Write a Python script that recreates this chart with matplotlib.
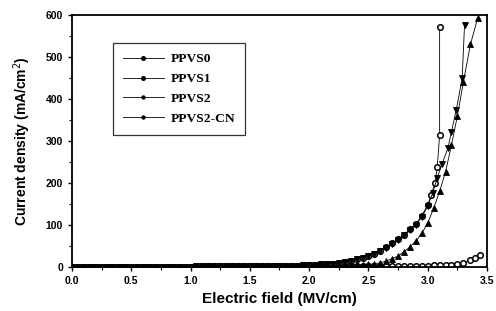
import matplotlib
matplotlib.use("Agg")
import matplotlib.pyplot as plt
from matplotlib.ticker import MultipleLocator

# ---------------- data ----------------
field_low = [0.00, 0.05, 0.10, 0.15, 0.20, 0.25, 0.30, 0.35, 0.40, 0.45,
             0.50, 0.55, 0.60, 0.65, 0.70, 0.75, 0.80, 0.85, 0.90, 0.95,
             1.00, 1.05, 1.10, 1.15, 1.20, 1.25, 1.30, 1.35, 1.40, 1.45,
             1.50, 1.55, 1.60, 1.65, 1.70, 1.75, 1.80, 1.85, 1.90, 1.95]
j_low = [0.3, 0.3, 0.4, 0.4, 0.4, 0.5, 0.5, 0.5, 0.6, 0.6,
         0.6, 0.7, 0.7, 0.8, 0.8, 0.9, 0.9, 1.0, 1.0, 1.1,
         1.1, 1.2, 1.2, 1.3, 1.4, 1.4, 1.5, 1.6, 1.7, 1.8,
         1.9, 2.0, 2.1, 2.2, 2.4, 2.6, 2.8, 3.0, 3.3, 3.6]
j_low0 = [0.2, 0.2, 0.2, 0.2, 0.2, 0.2, 0.2, 0.3, 0.3, 0.3,
          0.3, 0.3, 0.3, 0.3, 0.3, 0.4, 0.4, 0.4, 0.4, 0.4,
          0.4, 0.4, 0.5, 0.5, 0.5, 0.5, 0.5, 0.5, 0.6, 0.6,
          0.6, 0.6, 0.6, 0.7, 0.7, 0.7, 0.7, 0.8, 0.8, 0.8]

ppvs0_x = [2.00, 2.05, 2.10, 2.15, 2.20, 2.25, 2.30, 2.35, 2.40, 2.45,
           2.50, 2.55, 2.60, 2.65, 2.70, 2.75, 2.80, 2.85, 2.90, 2.95,
           3.00, 3.05, 3.10, 3.15, 3.20, 3.25, 3.30, 3.36, 3.40, 3.44]
ppvs0_y = [0.8, 0.9, 0.9, 1.0, 1.0, 1.1, 1.1, 1.2, 1.3, 1.4,
           1.5, 1.6, 1.8, 1.9, 2.0, 2.2, 2.4, 2.6, 2.9, 3.2,
           3.5, 3.9, 4.3, 4.7, 5.3, 7.0, 10.0, 17.0, 22.0, 28.0]

ppvs1_x = [2.00, 2.05, 2.10, 2.15, 2.20, 2.25, 2.30, 2.35, 2.40, 2.45,
           2.50, 2.55, 2.60, 2.65, 2.70, 2.75, 2.80, 2.85, 2.90, 2.95,
           3.00, 3.03, 3.06, 3.08, 3.10, 3.10]
ppvs1_y = [5, 5.5, 6, 7, 8, 10, 12, 15, 18, 22,
           27, 32, 39, 47, 56, 66, 77, 90, 103, 122,
           148, 172, 200, 238, 314, 571]

ppvs2_x = [2.00, 2.05, 2.10, 2.15, 2.20, 2.25, 2.30, 2.35, 2.40, 2.45,
           2.50, 2.55, 2.60, 2.65, 2.70, 2.75, 2.80, 2.85, 2.90, 2.95,
           3.00, 3.05, 3.10, 3.15, 3.20, 3.25, 3.30, 3.36, 3.42]
ppvs2_y = [3.5, 3.6, 3.8, 4.0, 4.2, 4.4, 4.6, 4.9, 5.2, 5.6,
           6, 8, 10, 14, 20, 26, 36, 48, 62, 80,
           105, 140, 180, 227, 290, 360, 440, 530, 592]

ppvs2cn_x = [2.00, 2.05, 2.10, 2.15, 2.20, 2.25, 2.30, 2.35, 2.40, 2.45,
             2.50, 2.55, 2.60, 2.65, 2.70, 2.75, 2.80, 2.85, 2.90, 2.95,
             3.00, 3.04, 3.08, 3.12, 3.17, 3.20, 3.24, 3.29, 3.31]
ppvs2cn_y = [5, 5.5, 6, 7, 8, 10, 12, 15, 18, 22,
             27, 32, 38, 46, 55, 64, 75, 88, 100, 120,
             145, 175, 212, 245, 283, 322, 374, 449, 576]

labels = ["PPVS0", "PPVS1", "PPVS2", "PPVS2-CN"]
xticks = [0.0, 0.5, 1.0, 1.5, 2.0, 2.5, 3.0, 3.5]
yticks = [0, 100, 200, 300, 400, 500, 600]

# ---------------- plot ----------------
fig = plt.figure(figsize=(4.96, 3.11), dpi=100)
ax = fig.add_axes([0.145, 0.1415, 0.837, 0.8105])

series = [
    (field_low + ppvs0_x, j_low0 + ppvs0_y, dict(marker="o", mfc="white", ms=4.0, mew=1.1)),
    (field_low + ppvs1_x, j_low + ppvs1_y, dict(marker="o", mfc="white", ms=4.0, mew=1.1)),
    (field_low + ppvs2_x, j_low + ppvs2_y, dict(marker="^", mfc="black", ms=4.5, mew=0.6)),
    (field_low + ppvs2cn_x, j_low + ppvs2cn_y, dict(marker="v", mfc="black", ms=4.5, mew=0.6)),
]
for (xs, ys, st), lab in zip(series, labels):
    ax.plot(xs, ys, color="black", lw=0.6, mec="black", label=lab, **st)

ax.set_xlim(0, 3.5)
ax.set_ylim(0, 600)
ax.set_xticks(xticks)
ax.set_yticks(yticks)
ax.xaxis.set_minor_locator(MultipleLocator(0.25))
ax.yaxis.set_minor_locator(MultipleLocator(50))
ax.tick_params(which="major", direction="out", length=3, width=1.0, top=False, right=False)
ax.tick_params(which="minor", direction="out", length=2, width=0.8, top=False, right=False)
ax.set_xticklabels([f"{v:.1f}" for v in xticks])
for lab in ax.get_xticklabels() + ax.get_yticklabels():
    lab.set_fontfamily("Liberation Sans")
    lab.set_fontweight("bold")
    lab.set_fontsize(7.5)

for s in ax.spines.values():
    s.set_linewidth(1.3)

ax.set_xlabel("Electric field (MV/cm)", fontfamily="Liberation Sans",
              fontweight="bold", fontsize=11, labelpad=4)
ax.set_ylabel("Current density (mA/cm$^{2}$)", fontfamily="Liberation Sans",
              fontweight="bold", fontsize=10, labelpad=9)

leg = ax.legend(loc="upper left", bbox_to_anchor=(0.099, 0.889), frameon=True,
                fancybox=False, edgecolor="black", handlelength=3.0,
                prop={"family": "Liberation Serif", "weight": "bold", "size": 9.7},
                borderpad=0.75, labelspacing=0.55, handletextpad=0.5, borderaxespad=0)
leg.get_frame().set_linewidth(0.9)
for h in leg.legend_handles:
    h.set_marker("o")
    h.set_markerfacecolor("black")
    h.set_markersize(2.5)

fig.savefig("out.png", dpi=100)
